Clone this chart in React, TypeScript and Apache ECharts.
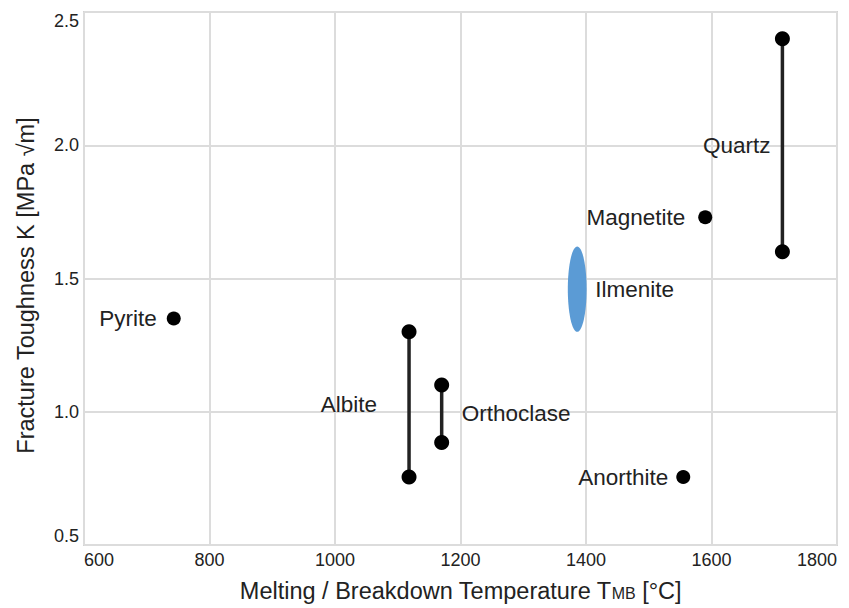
import React, { useEffect, useRef } from "react";
import * as echarts from "echarts";

// Single-value minerals
const pointNames = ["Pyrite", "Magnetite", "Anorthite"];
const pointTemps = [743, 1590, 1555];
const pointToughness = [1.35, 1.73, 0.755];

// Minerals with a toughness range
const rangeNames = ["Albite", "Orthoclase", "Quartz"];
const rangeTemps = [1118, 1170, 1713];
const rangeLow = [0.755, 0.885, 1.6];
const rangeHigh = [1.3, 1.1, 2.4];

// Ilmenite drawn as an ellipse (temperature span, toughness span)
const ellipseName = "Ilmenite";
const ellipseTemps = [1371, 1401];
const ellipseToughness = [1.3, 1.62];

const xTicks = [600, 800, 1000, 1200, 1400, 1600, 1800];
const yTicks = [0.5, 1.0, 1.5, 2.0, 2.5];

const FONT = "'Liberation Sans', Arial, sans-serif";
const TEXT = "#222222";

const labelCfg: Record<string, { position: string; distance: number }> = {
  Pyrite: { position: "left", distance: 10 },
  Magnetite: { position: "left", distance: 13 },
  Anorthite: { position: "left", distance: 8 },
  Albite: { position: "left", distance: 32 },
  Orthoclase: { position: "right", distance: 20 },
  Quartz: { position: "left", distance: 12 },
  Ilmenite: { position: "right", distance: 18 },
};

export default function App() {
  const ref = useRef<HTMLDivElement>(null);
  useEffect(() => {
    if (!ref.current) return;
    const chart = echarts.init(ref.current, null, { renderer: "svg" });

    const labelStyle = (name: string) => ({
      show: true,
      formatter: name,
      position: labelCfg[name].position,
      distance: labelCfg[name].distance,
      fontFamily: FONT,
      fontSize: 22.5,
      color: TEXT,
      opacity: 1,
    });

    const rangeSeries = rangeNames.map((n, i) => ({
      type: "line",
      name: n,
      data: [
        [rangeTemps[i], rangeLow[i]],
        [rangeTemps[i], rangeHigh[i]],
      ],
      symbol: "circle",
      symbolSize: 15,
      showSymbol: true,
      lineStyle: { color: "#222", width: 3.5 },
      itemStyle: { color: "#000", opacity: 1 },
      z: 3,
    }));

    const rangeLabelSeries = {
      type: "scatter",
      symbolSize: 0,
      itemStyle: { opacity: 1 },
      data: rangeNames.map((n, i) => ({
        value: [rangeTemps[i], (rangeLow[i] + rangeHigh[i]) / 2],
        label: labelStyle(n),
      })),
      z: 4,
    };

    const pointSeries = {
      type: "scatter",
      symbolSize: 14,
      itemStyle: { color: "#000", opacity: 1 },
      data: pointNames.map((n, i) => ({
        value: [pointTemps[i], pointToughness[i]],
        label: labelStyle(n),
      })),
      z: 4,
    };

    const cx = (ellipseTemps[0] + ellipseTemps[1]) / 2;
    const cy = (ellipseToughness[0] + ellipseToughness[1]) / 2;
    const ellipseSeries = {
      type: "custom",
      data: [[cx, cy, ellipseTemps[1] - ellipseTemps[0], ellipseToughness[1] - ellipseToughness[0]]],
      encode: { x: 0, y: 1 },
      renderItem: (params: any, api: any) => {
        const c = api.coord([api.value(0), api.value(1)]);
        const s = api.size([api.value(2), api.value(3)]);
        return {
          type: "ellipse",
          shape: { cx: c[0], cy: c[1], rx: s[0] / 2, ry: s[1] / 2 },
          style: { fill: "#5b9bd5" },
        };
      },
      z: 2,
    };

    const ellipseLabelSeries = {
      type: "scatter",
      symbolSize: 0,
      itemStyle: { opacity: 1 },
      data: [{ value: [cx, cy], label: labelStyle(ellipseName) }],
      z: 4,
    };

    chart.setOption({
      animation: false,
      backgroundColor: "#fff",
      grid: {
        left: 84,
        right: 12,
        top: 12,
        bottom: 63,
        show: true,
        borderColor: "#d3d3d3",
        borderWidth: 2,
      },
      xAxis: {
        type: "value",
        min: xTicks[0],
        max: xTicks[xTicks.length - 1],
        interval: xTicks[1] - xTicks[0],
        name: "Melting / Breakdown Temperature T{s|MB} [°C]",
        nameLocation: "middle",
        nameGap: 34,
        nameTextStyle: {
          fontFamily: FONT,
          fontSize: 23.5,
          color: TEXT,
          rich: { s: { fontFamily: FONT, fontSize: 16, color: TEXT, verticalAlign: "bottom", padding: [0, 0, 2, 0] } },
        },
        axisLine: { show: false },
        axisTick: { show: false },
        splitLine: { show: true, lineStyle: { color: "#dcdcdc", width: 2 } },
        axisLabel: {
          fontFamily: FONT,
          fontSize: 18,
          color: TEXT,
          margin: 6,
          formatter: (v: number) => String(v),
          alignMinLabel: "left",
          alignMaxLabel: "right",
        },
      },
      yAxis: {
        type: "value",
        min: yTicks[0],
        max: yTicks[yTicks.length - 1],
        interval: yTicks[1] - yTicks[0],
        name: "Fracture Toughness K [MPa √m]",
        nameLocation: "middle",
        nameGap: 46,
        nameTextStyle: { fontFamily: FONT, fontSize: 23.5, color: TEXT, padding: [0, 0, 0, -14] },
        axisLine: { show: false },
        axisTick: { show: false },
        splitLine: { show: true, lineStyle: { color: "#dcdcdc", width: 2 } },
        axisLabel: {
          fontFamily: FONT,
          fontSize: 18,
          color: TEXT,
          margin: 5,
          formatter: (v: number) => v.toFixed(1),
          verticalAlignMinLabel: "bottom",
          verticalAlignMaxLabel: "top",
        },
      },
      series: [ellipseSeries, ...rangeSeries, pointSeries, rangeLabelSeries, ellipseLabelSeries],
    });
    return () => chart.dispose();
  }, []);
  return (
    <div
      ref={ref}
      style={{ position: "fixed", left: 0, top: 0, width: 849, height: 608 }}
    />
  );
}
